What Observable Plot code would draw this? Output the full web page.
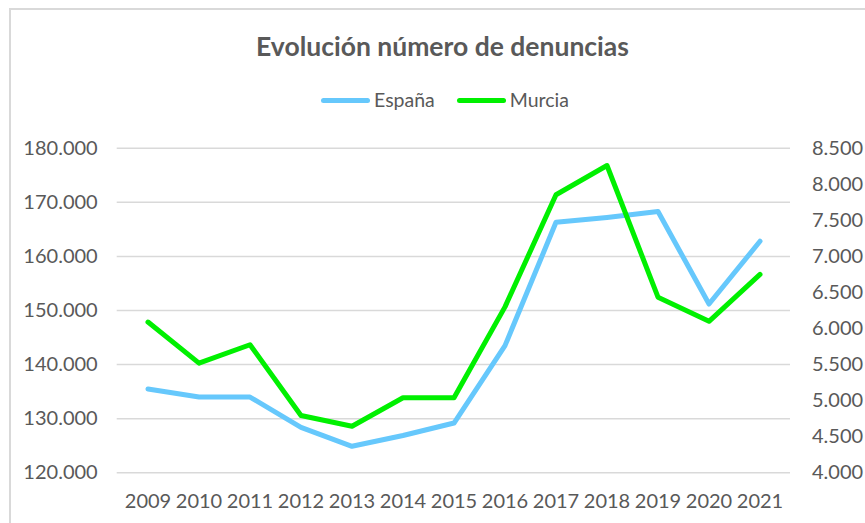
<!DOCTYPE html>
<html>
<head>
<meta charset="utf-8">
<script src="https://cdn.jsdelivr.net/npm/d3@7"></script>
<script src="https://cdn.jsdelivr.net/npm/@observablehq/plot@0.6"></script>
<style>
  html, body { margin: 0; padding: 0; background: #fff; }
  #wrap { position: relative; width: 865px; height: 523px; overflow: hidden; font-family: Lato, "Open Sans", sans-serif; }
  #frame { position: absolute; left: 9px; top: 8px; width: 900px; height: 600px; border-left: 2px solid #d9d9d9; border-top: 2px solid #d9d9d9; }
  #title { position: absolute; left: 0; width: 885px; top: 30px; text-align: center; font-size: 26.5px; font-weight: bold; color: #595959; line-height: 32px; }
  #legend { position: absolute; left: 0; width: 890px; top: 88px; display: flex; justify-content: center; gap: 22px; font-size: 19.5px; color: #595959; line-height: 24px; }
  .item { display: flex; align-items: center; gap: 4px; }
  .sw { width: 49px; height: 5px; border-radius: 3px; }
  #chart { position: absolute; left: 0; top: 0; }
</style>
</head>
<body>
<div id="wrap">
  <div id="frame"></div>
  <div id="chart"></div>
  <div id="title">Evolución número de denuncias</div>
  <div id="legend"></div>
</div>
<script>
const years = [2009, 2010, 2011, 2012, 2013, 2014, 2015, 2016, 2017, 2018, 2019, 2020, 2021];
const espana = [135500, 134000, 134000, 128400, 124900, 126900, 129200, 143500, 166300, 167200, 168300, 151200, 162800];
const murcia = [6090, 5520, 5775, 4795, 4645, 5040, 5040, 6300, 7855, 8260, 6435, 6100, 6750];
const leftTicks = [120000, 130000, 140000, 150000, 160000, 170000, 180000];
const rightTicks = [4000, 4500, 5000, 5500, 6000, 6500, 7000, 7500, 8000, 8500];
const seriesNames = ["España", "Murcia"];
const seriesColors = ["#66c8fc", "#00f000"];

const fmt = d3.formatLocale({decimal: ",", thousands: ".", grouping: [3]}).format(",d");

// map right-axis values onto the left-axis domain
const L0 = 120000, L1 = 180000, R0 = 4000, R1 = 8500;
const toLeft = v => L0 + (v - R0) * (L1 - L0) / (R1 - R0);
const toRight = v => R0 + (v - L0) * (R1 - R0) / (L1 - L0);

const rows = [];
years.forEach((y, i) => {
  rows.push({year: String(y), value: espana[i], series: seriesNames[0]});
});
years.forEach((y, i) => {
  rows.push({year: String(y), value: toLeft(murcia[i]), series: seriesNames[1]});
});

const plot = Plot.plot({
  width: 865,
  height: 523,
  marginTop: 147.7,
  marginBottom: 50.7,
  marginLeft: 116.7,
  marginRight: 75,
  style: {fontFamily: "Lato, 'Open Sans', sans-serif", fontSize: "20px", color: "#595959", background: "transparent", overflow: "visible"},
  x: {type: "band", domain: years.map(String), padding: 0},
  y: {domain: [L0, L1]},
  color: {domain: seriesNames, range: seriesColors},
  marks: [
    Plot.gridY(leftTicks, {stroke: "#d9d9d9", strokeOpacity: 1, strokeWidth: 1.5}),
    Plot.axisY(leftTicks, {anchor: "left", tickSize: 0, tickPadding: 19.5, tickFormat: fmt, label: null, fill: "#595959", fontSize: 20}),
    Plot.axisY(rightTicks.map(toLeft), {anchor: "right", tickSize: 0, tickPadding: 21.5, tickFormat: d => fmt(Math.round(toRight(d))), label: null, fill: "#595959", fontSize: 20, textAnchor: "start"}),
    Plot.axisX({anchor: "bottom", tickSize: 0, tickPadding: 20.5, label: null, fill: "#595959", fontSize: 20}),
    Plot.line(rows, {x: "year", y: "value", z: "series", stroke: "series", strokeWidth: 5, strokeLinejoin: "round", strokeLinecap: "round"})
  ]
});
document.getElementById("chart").appendChild(plot);

const legend = document.getElementById("legend");
seriesNames.forEach((n, i) => {
  const it = document.createElement("div");
  it.className = "item";
  const sw = document.createElement("div");
  sw.className = "sw";
  sw.style.background = seriesColors[i];
  const t = document.createElement("span");
  t.textContent = n;
  it.appendChild(sw); it.appendChild(t);
  legend.appendChild(it);
});
</script>
</body>
</html>
